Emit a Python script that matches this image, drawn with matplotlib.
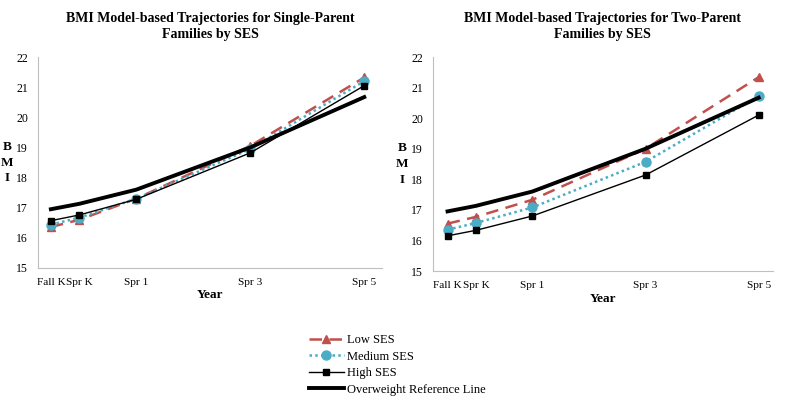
import matplotlib
matplotlib.use("Agg")
import matplotlib.pyplot as plt

plt.rcParams['font.family'] = ['Liberation Serif', 'DejaVu Serif']

# time points (years since fall of kindergarten) and their labels
years = [0, 0.5, 1.5, 3.5, 5.5]
wave_labels = ["Fall K", "Spr K", "Spr 1", "Spr 3", "Spr 5"]

# BMI model-based trajectories
single_low = [16.36, 16.60, 17.30, 19.05, 21.32]
single_med = [16.44, 16.67, 17.30, 18.95, 21.20]
single_high = [16.57, 16.76, 17.28, 18.82, 21.05]

two_low = [16.55, 16.77, 17.33, 19.00, 21.34]
two_med = [16.35, 16.57, 17.08, 18.57, 20.72]
two_high = [16.15, 16.33, 16.80, 18.14, 20.10]

overweight_ref = [16.95, 17.13, 17.60, 19.00, 20.67]

titles = ["BMI Model-based Trajectories for Single-Parent\nFamilies by SES",
          "BMI Model-based Trajectories for Two-Parent\nFamilies by SES"]
series_names = ["Low SES", "Medium SES", "High SES", "Overweight Reference Line"]

red = "#C0504D"
blue = "#4BACC6"

fig = plt.figure(figsize=(7.87, 4.0), dpi=100)
ax1 = fig.add_axes([0.048, 0.33, 0.438, 0.5275])
ax2 = fig.add_axes([0.550, 0.3225, 0.432, 0.535])

panels = [(ax1, single_low, single_med, single_high, (-0.23, 5.82)),
          (ax2, two_low, two_med, two_high, (-0.26, 5.75))]

for i, (ax, low, med, high, xl) in enumerate(panels):
    ax.plot(years, low, color=red, ls=(0, (5, 3)), lw=1.8, marker='^', ms=6,
            label=series_names[0])
    ax.plot(years, med, color=blue, ls=(0, (1, 1.3)), lw=1.8, marker='o', ms=6.5,
            label=series_names[1])
    ax.plot(years, high, color='black', ls='-', lw=1.0, marker='s', ms=5,
            label=series_names[2])
    ax.plot(years, overweight_ref, color='black', lw=2.8, label=series_names[3])

    ax.set_xlim(*xl)
    ax.set_ylim(15, 22)
    ax.set_xticks(years)
    ax.set_xticklabels(wave_labels, fontsize=8.1)
    ax.set_yticks(range(15, 23))
    ax.tick_params(axis='y', labelsize=8.5, length=0, pad=7)
    ax.tick_params(axis='x', length=0, pad=7)
    for s in ['top', 'right']:
        ax.spines[s].set_visible(False)
    for s in ['left', 'bottom']:
        ax.spines[s].set_color('#BFBFBF')
        ax.spines[s].set_linewidth(0.8)

    ax.set_xlabel("Year", fontsize=9.5, fontweight='bold', labelpad=2)
    ax.set_ylabel("B\nM\nI", fontsize=9.5, fontweight='bold', rotation=0,
                  va='center', ha='center', linespacing=1.4)
    ax.yaxis.set_label_coords(-0.09, 0.5)
    ax.set_title(titles[i], fontsize=10, fontweight='bold', pad=14,
                 linespacing=1.25)

handles, labels = ax1.get_legend_handles_labels()
fig.legend(handles, labels, loc='center', bbox_to_anchor=(0.505, 0.0875),
           frameon=False, fontsize=9, handlelength=2.8, labelspacing=0.35,
           handletextpad=0.3)

fig.savefig("out.png", dpi=100)
